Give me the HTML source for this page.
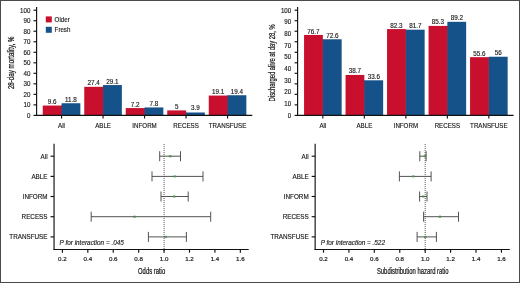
<!DOCTYPE html>
<html><head><meta charset="utf-8"><title>Figure</title>
<style>
html,body{margin:0;padding:0;background:#fff;}
body{width:520px;height:283px;overflow:hidden;font-family:"Liberation Sans",sans-serif;}
svg{display:block;will-change:transform;}
.t{font-family:"Liberation Sans",sans-serif;font-size:6.7px;fill:#1a1a1a;stroke:#1a1a1a;stroke-width:0.15;}
.c{font-family:"Liberation Sans",sans-serif;font-size:8.3px;fill:#1a1a1a;}
.s{font-family:"Liberation Sans",sans-serif;font-size:5.9px;fill:#1a1a1a;stroke:#1a1a1a;stroke-width:0.2;}
.x{font-family:"Liberation Sans",sans-serif;font-size:8.4px;fill:#1a1a1a;stroke:#1a1a1a;stroke-width:0.25;}
.v{font-family:"Liberation Sans",sans-serif;font-size:6.3px;fill:#1a1a1a;stroke:#1a1a1a;stroke-width:0.15;}
.ax{stroke:#111;stroke-width:1.15;fill:none;}
.ci{stroke:#4a4a4a;stroke-width:0.95;fill:none;}
</style></head><body>
<svg width="520" height="283" viewBox="0 0 520 283">
<rect x="42.75" y="105.55" width="18.80" height="9.85" fill="#c8102e"/>
<rect x="61.05" y="105.55" width="1" height="9.85" fill="#c8102e"/>
<rect x="61.55" y="103.24" width="18.80" height="12.16" fill="#15528a"/>
<text transform="translate(52.15,104.10) scale(1.0,1)" text-anchor="middle" class="v">9.6</text>
<text transform="translate(70.95,101.79) scale(1.0,1)" text-anchor="middle" class="v">11.8</text>
<line x1="61.55" y1="115.40" x2="61.55" y2="118.50" class="ax"/>
<text transform="translate(61.55,127.70) scale(0.925,1)" text-anchor="middle" class="t">All</text>
<rect x="84.25" y="86.83" width="18.80" height="28.57" fill="#c8102e"/>
<rect x="102.55" y="86.83" width="1" height="28.57" fill="#c8102e"/>
<rect x="103.05" y="85.04" width="18.80" height="30.36" fill="#15528a"/>
<text transform="translate(93.65,85.38) scale(1.0,1)" text-anchor="middle" class="v">27.4</text>
<text transform="translate(112.45,83.59) scale(1.0,1)" text-anchor="middle" class="v">29.1</text>
<line x1="103.05" y1="115.40" x2="103.05" y2="118.50" class="ax"/>
<text transform="translate(103.05,127.70) scale(0.925,1)" text-anchor="middle" class="t">ABLE</text>
<rect x="125.75" y="108.08" width="18.80" height="7.32" fill="#c8102e"/>
<rect x="144.05" y="108.08" width="1" height="7.32" fill="#c8102e"/>
<rect x="144.55" y="107.44" width="18.80" height="7.96" fill="#15528a"/>
<text transform="translate(135.15,106.63) scale(1.0,1)" text-anchor="middle" class="v">7.2</text>
<text transform="translate(153.95,105.99) scale(1.0,1)" text-anchor="middle" class="v">7.8</text>
<line x1="144.55" y1="115.40" x2="144.55" y2="118.50" class="ax"/>
<text transform="translate(144.55,127.70) scale(0.925,1)" text-anchor="middle" class="t">INFORM</text>
<rect x="167.25" y="110.39" width="18.80" height="5.01" fill="#c8102e"/>
<rect x="185.55" y="112.49" width="1" height="2.91" fill="#c8102e"/>
<rect x="186.05" y="112.49" width="18.80" height="2.91" fill="#15528a"/>
<text transform="translate(176.65,108.94) scale(1.0,1)" text-anchor="middle" class="v">5</text>
<text transform="translate(195.45,110.40) scale(1.0,1)" text-anchor="middle" class="v">3.9</text>
<line x1="186.05" y1="115.40" x2="186.05" y2="118.50" class="ax"/>
<text transform="translate(186.05,127.70) scale(0.925,1)" text-anchor="middle" class="t">RECESS</text>
<rect x="208.75" y="95.56" width="18.80" height="19.84" fill="#c8102e"/>
<rect x="227.05" y="95.56" width="1" height="19.84" fill="#c8102e"/>
<rect x="227.55" y="95.24" width="18.80" height="20.16" fill="#15528a"/>
<text transform="translate(218.15,94.11) scale(1.0,1)" text-anchor="middle" class="v">19.1</text>
<text transform="translate(236.95,93.79) scale(1.0,1)" text-anchor="middle" class="v">19.4</text>
<line x1="227.55" y1="115.40" x2="227.55" y2="118.50" class="ax"/>
<text transform="translate(227.55,127.70) scale(0.925,1)" text-anchor="middle" class="t">TRANSFUSE</text>
<line x1="36.60" y1="7" x2="36.60" y2="115.90" class="ax"/>
<line x1="36.10" y1="115.40" x2="252.30" y2="115.40" class="ax"/>
<line x1="33.50" y1="115.40" x2="36.60" y2="115.40" class="ax"/>
<text transform="translate(30.40,117.70) scale(0.925,1)" text-anchor="end" class="t">0</text>
<line x1="33.50" y1="104.88" x2="36.60" y2="104.88" class="ax"/>
<text transform="translate(30.40,107.18) scale(0.925,1)" text-anchor="end" class="t">10</text>
<line x1="33.50" y1="94.36" x2="36.60" y2="94.36" class="ax"/>
<text transform="translate(30.40,96.66) scale(0.925,1)" text-anchor="end" class="t">20</text>
<line x1="33.50" y1="83.84" x2="36.60" y2="83.84" class="ax"/>
<text transform="translate(30.40,86.14) scale(0.925,1)" text-anchor="end" class="t">30</text>
<line x1="33.50" y1="73.32" x2="36.60" y2="73.32" class="ax"/>
<text transform="translate(30.40,75.62) scale(0.925,1)" text-anchor="end" class="t">40</text>
<line x1="33.50" y1="62.80" x2="36.60" y2="62.80" class="ax"/>
<text transform="translate(30.40,65.10) scale(0.925,1)" text-anchor="end" class="t">50</text>
<line x1="33.50" y1="52.28" x2="36.60" y2="52.28" class="ax"/>
<text transform="translate(30.40,54.58) scale(0.925,1)" text-anchor="end" class="t">60</text>
<line x1="33.50" y1="41.76" x2="36.60" y2="41.76" class="ax"/>
<text transform="translate(30.40,44.06) scale(0.925,1)" text-anchor="end" class="t">70</text>
<line x1="33.50" y1="31.24" x2="36.60" y2="31.24" class="ax"/>
<text transform="translate(30.40,33.54) scale(0.925,1)" text-anchor="end" class="t">80</text>
<line x1="33.50" y1="20.72" x2="36.60" y2="20.72" class="ax"/>
<text transform="translate(30.40,23.02) scale(0.925,1)" text-anchor="end" class="t">90</text>
<line x1="33.50" y1="10.20" x2="36.60" y2="10.20" class="ax"/>
<text transform="translate(30.40,12.50) scale(0.925,1)" text-anchor="end" class="t">100</text>
<text transform="translate(14.00,62.8) rotate(-90) scale(0.74,1)" text-anchor="middle" class="x">28-day mortality, %</text>
<rect x="304.05" y="34.96" width="18.80" height="80.44" fill="#c8102e"/>
<rect x="322.35" y="39.27" width="1" height="76.13" fill="#c8102e"/>
<rect x="322.85" y="39.27" width="18.80" height="76.13" fill="#15528a"/>
<text transform="translate(313.45,33.51) scale(1.0,1)" text-anchor="middle" class="v">76.7</text>
<text transform="translate(332.25,37.82) scale(1.0,1)" text-anchor="middle" class="v">72.6</text>
<line x1="322.85" y1="115.40" x2="322.85" y2="118.50" class="ax"/>
<text transform="translate(322.85,127.70) scale(0.925,1)" text-anchor="middle" class="t">All</text>
<rect x="345.55" y="74.94" width="18.80" height="40.46" fill="#c8102e"/>
<rect x="363.85" y="80.30" width="1" height="35.10" fill="#c8102e"/>
<rect x="364.35" y="80.30" width="18.80" height="35.10" fill="#15528a"/>
<text transform="translate(354.95,73.49) scale(1.0,1)" text-anchor="middle" class="v">38.7</text>
<text transform="translate(373.75,78.85) scale(1.0,1)" text-anchor="middle" class="v">33.6</text>
<line x1="364.35" y1="115.40" x2="364.35" y2="118.50" class="ax"/>
<text transform="translate(364.35,127.70) scale(0.925,1)" text-anchor="middle" class="t">ABLE</text>
<rect x="387.05" y="29.07" width="18.80" height="86.33" fill="#c8102e"/>
<rect x="405.35" y="29.70" width="1" height="85.70" fill="#c8102e"/>
<rect x="405.85" y="29.70" width="18.80" height="85.70" fill="#15528a"/>
<text transform="translate(396.45,27.62) scale(1.0,1)" text-anchor="middle" class="v">82.3</text>
<text transform="translate(415.25,28.25) scale(1.0,1)" text-anchor="middle" class="v">81.7</text>
<line x1="405.85" y1="115.40" x2="405.85" y2="118.50" class="ax"/>
<text transform="translate(405.85,127.70) scale(0.925,1)" text-anchor="middle" class="t">INFORM</text>
<rect x="428.55" y="25.91" width="18.80" height="89.49" fill="#c8102e"/>
<rect x="446.85" y="25.91" width="1" height="89.49" fill="#c8102e"/>
<rect x="447.35" y="21.81" width="18.80" height="93.59" fill="#15528a"/>
<text transform="translate(437.95,24.46) scale(1.0,1)" text-anchor="middle" class="v">85.3</text>
<text transform="translate(456.75,20.36) scale(1.0,1)" text-anchor="middle" class="v">89.2</text>
<line x1="447.35" y1="115.40" x2="447.35" y2="118.50" class="ax"/>
<text transform="translate(447.35,127.70) scale(0.925,1)" text-anchor="middle" class="t">RECESS</text>
<rect x="470.05" y="57.16" width="18.80" height="58.24" fill="#c8102e"/>
<rect x="488.35" y="57.16" width="1" height="58.24" fill="#c8102e"/>
<rect x="488.85" y="56.74" width="18.80" height="58.66" fill="#15528a"/>
<text transform="translate(479.45,55.71) scale(1.0,1)" text-anchor="middle" class="v">55.6</text>
<text transform="translate(498.25,55.29) scale(1.0,1)" text-anchor="middle" class="v">56</text>
<line x1="488.85" y1="115.40" x2="488.85" y2="118.50" class="ax"/>
<text transform="translate(488.85,127.70) scale(0.925,1)" text-anchor="middle" class="t">TRANSFUSE</text>
<line x1="297.60" y1="7" x2="297.60" y2="115.90" class="ax"/>
<line x1="297.10" y1="115.40" x2="513.60" y2="115.40" class="ax"/>
<line x1="294.60" y1="115.40" x2="297.60" y2="115.40" class="ax"/>
<line x1="294.60" y1="104.88" x2="297.60" y2="104.88" class="ax"/>
<line x1="294.60" y1="94.36" x2="297.60" y2="94.36" class="ax"/>
<line x1="294.60" y1="83.84" x2="297.60" y2="83.84" class="ax"/>
<line x1="294.60" y1="73.32" x2="297.60" y2="73.32" class="ax"/>
<line x1="294.60" y1="62.80" x2="297.60" y2="62.80" class="ax"/>
<line x1="294.60" y1="52.28" x2="297.60" y2="52.28" class="ax"/>
<line x1="294.60" y1="41.76" x2="297.60" y2="41.76" class="ax"/>
<line x1="294.60" y1="31.24" x2="297.60" y2="31.24" class="ax"/>
<line x1="294.60" y1="20.72" x2="297.60" y2="20.72" class="ax"/>
<line x1="294.60" y1="10.20" x2="297.60" y2="10.20" class="ax"/>
<text transform="translate(291.20,12.50) scale(0.925,1)" text-anchor="end" class="t">100</text>
<text transform="translate(291.20,24.19) scale(0.925,1)" text-anchor="end" class="t">90</text>
<text transform="translate(291.20,35.88) scale(0.925,1)" text-anchor="end" class="t">80</text>
<text transform="translate(291.20,47.57) scale(0.925,1)" text-anchor="end" class="t">70</text>
<text transform="translate(291.20,59.26) scale(0.925,1)" text-anchor="end" class="t">50</text>
<text transform="translate(291.20,70.94) scale(0.925,1)" text-anchor="end" class="t">40</text>
<text transform="translate(291.20,82.63) scale(0.925,1)" text-anchor="end" class="t">30</text>
<text transform="translate(291.20,94.32) scale(0.925,1)" text-anchor="end" class="t">20</text>
<text transform="translate(291.20,106.01) scale(0.925,1)" text-anchor="end" class="t">10</text>
<text transform="translate(291.20,117.70) scale(0.925,1)" text-anchor="end" class="t">0</text>
<text transform="translate(274.70,62.8) rotate(-90) scale(0.696,1)" text-anchor="middle" class="x">Discharged alive at day 28, %</text>
<rect x="45.8" y="16.4" width="6" height="6" fill="#c8102e"/>
<rect x="45.8" y="26.8" width="6" height="6" fill="#15528a"/>
<text transform="translate(54.60,21.70) scale(0.925,1)" text-anchor="start" class="t">Older</text>
<text transform="translate(54.60,32.10) scale(0.925,1)" text-anchor="start" class="t">Fresh</text>
<line x1="164.08" y1="144" x2="164.08" y2="252.45" stroke="#2a2a2a" stroke-width="0.9" stroke-dasharray="0.9 1.1"/>
<line x1="50.55" y1="156.20" x2="54.05" y2="156.20" class="ax"/>
<text transform="translate(47.55,158.50) scale(0.945,1)" text-anchor="end" class="t">All</text>
<rect x="168.90" y="155.00" width="2.6" height="2.4" rx="0.6" fill="#7cc47c"/>
<path d="M159.70 151.20V161.20M180.50 151.20V161.20M159.70 156.20H180.50" class="ci"/>
<rect x="169.30" y="155.70" width="1.8" height="1" fill="#5a9a62" opacity="0.85"/>
<line x1="50.55" y1="176.40" x2="54.05" y2="176.40" class="ax"/>
<text transform="translate(47.55,178.70) scale(0.945,1)" text-anchor="end" class="t">ABLE</text>
<rect x="173.50" y="175.20" width="2.6" height="2.4" rx="0.6" fill="#7cc47c"/>
<path d="M152.00 171.40V181.40M203.00 171.40V181.40M152.00 176.40H203.00" class="ci"/>
<rect x="173.90" y="175.90" width="1.8" height="1" fill="#5a9a62" opacity="0.85"/>
<line x1="50.55" y1="196.50" x2="54.05" y2="196.50" class="ax"/>
<text transform="translate(47.55,198.80) scale(0.945,1)" text-anchor="end" class="t">INFORM</text>
<rect x="173.00" y="195.30" width="2.6" height="2.4" rx="0.6" fill="#7cc47c"/>
<path d="M161.00 191.50V201.50M188.20 191.50V201.50M161.00 196.50H188.20" class="ci"/>
<rect x="173.40" y="196.00" width="1.8" height="1" fill="#5a9a62" opacity="0.85"/>
<line x1="50.55" y1="216.70" x2="54.05" y2="216.70" class="ax"/>
<text transform="translate(47.55,219.00) scale(0.945,1)" text-anchor="end" class="t">RECESS</text>
<rect x="133.20" y="215.50" width="2.6" height="2.4" rx="0.6" fill="#7cc47c"/>
<path d="M91.20 211.70V221.70M210.70 211.70V221.70M91.20 216.70H210.70" class="ci"/>
<rect x="133.60" y="216.20" width="1.8" height="1" fill="#5a9a62" opacity="0.85"/>
<line x1="50.55" y1="236.90" x2="54.05" y2="236.90" class="ax"/>
<text transform="translate(47.55,239.20) scale(0.945,1)" text-anchor="end" class="t">TRANSFUSE</text>
<rect x="164.40" y="235.70" width="2.6" height="2.4" rx="0.6" fill="#7cc47c"/>
<path d="M148.40 231.90V241.90M186.40 231.90V241.90M148.40 236.90H186.40" class="ci"/>
<rect x="164.80" y="236.40" width="1.8" height="1" fill="#5a9a62" opacity="0.85"/>
<line x1="54.05" y1="143.8" x2="54.05" y2="249.95" class="ax"/>
<line x1="53.55" y1="249.45" x2="248.70" y2="249.45" class="ax"/>
<line x1="62.40" y1="249.45" x2="62.40" y2="252.65" class="ax"/>
<text transform="translate(62.40,261.25) scale(1.05,1)" text-anchor="middle" class="s">0.2</text>
<line x1="87.82" y1="249.45" x2="87.82" y2="252.65" class="ax"/>
<text transform="translate(87.82,261.25) scale(1.05,1)" text-anchor="middle" class="s">0.4</text>
<line x1="113.24" y1="249.45" x2="113.24" y2="252.65" class="ax"/>
<text transform="translate(113.24,261.25) scale(1.05,1)" text-anchor="middle" class="s">0.6</text>
<line x1="138.66" y1="249.45" x2="138.66" y2="252.65" class="ax"/>
<text transform="translate(138.66,261.25) scale(1.05,1)" text-anchor="middle" class="s">0.8</text>
<line x1="164.08" y1="249.45" x2="164.08" y2="252.65" class="ax"/>
<text transform="translate(164.08,261.25) scale(1.05,1)" text-anchor="middle" class="s">1.0</text>
<line x1="189.50" y1="249.45" x2="189.50" y2="252.65" class="ax"/>
<text transform="translate(189.50,261.25) scale(1.05,1)" text-anchor="middle" class="s">1.2</text>
<line x1="214.92" y1="249.45" x2="214.92" y2="252.65" class="ax"/>
<text transform="translate(214.92,261.25) scale(1.05,1)" text-anchor="middle" class="s">1.4</text>
<line x1="240.34" y1="249.45" x2="240.34" y2="252.65" class="ax"/>
<text transform="translate(240.34,261.25) scale(1.05,1)" text-anchor="middle" class="s">1.6</text>
<text transform="translate(59.60,244.90) scale(0.955,1)" text-anchor="start" class="t" font-style="italic">P for interaction = .045</text>
<text transform="translate(151.60,274.4) scale(0.7,1)" text-anchor="middle" class="x">Odds ratio</text>
<line x1="425.18" y1="144" x2="425.18" y2="252.45" stroke="#2a2a2a" stroke-width="0.9" stroke-dasharray="0.9 1.1"/>
<line x1="311.65" y1="156.20" x2="315.15" y2="156.20" class="ax"/>
<text transform="translate(308.65,158.50) scale(0.945,1)" text-anchor="end" class="t">All</text>
<rect x="423.70" y="155.00" width="2.6" height="2.4" rx="0.6" fill="#7cc47c"/>
<path d="M419.80 151.20V161.20M426.10 151.20V161.20M419.80 156.20H426.10" class="ci"/>
<rect x="424.10" y="155.70" width="1.8" height="1" fill="#5a9a62" opacity="0.85"/>
<line x1="311.65" y1="176.40" x2="315.15" y2="176.40" class="ax"/>
<text transform="translate(308.65,178.70) scale(0.945,1)" text-anchor="end" class="t">ABLE</text>
<rect x="412.00" y="175.20" width="2.6" height="2.4" rx="0.6" fill="#7cc47c"/>
<path d="M399.40 171.40V181.40M431.10 171.40V181.40M399.40 176.40H431.10" class="ci"/>
<rect x="412.40" y="175.90" width="1.8" height="1" fill="#5a9a62" opacity="0.85"/>
<line x1="311.65" y1="196.50" x2="315.15" y2="196.50" class="ax"/>
<text transform="translate(308.65,198.80) scale(0.945,1)" text-anchor="end" class="t">INFORM</text>
<rect x="422.00" y="195.30" width="2.6" height="2.4" rx="0.6" fill="#7cc47c"/>
<path d="M419.60 191.50V201.50M427.00 191.50V201.50M419.60 196.50H427.00" class="ci"/>
<rect x="422.40" y="196.00" width="1.8" height="1" fill="#5a9a62" opacity="0.85"/>
<line x1="311.65" y1="216.70" x2="315.15" y2="216.70" class="ax"/>
<text transform="translate(308.65,219.00) scale(0.945,1)" text-anchor="end" class="t">RECESS</text>
<rect x="438.60" y="215.50" width="2.6" height="2.4" rx="0.6" fill="#7cc47c"/>
<path d="M423.60 211.70V221.70M458.50 211.70V221.70M423.60 216.70H458.50" class="ci"/>
<rect x="439.00" y="216.20" width="1.8" height="1" fill="#5a9a62" opacity="0.85"/>
<line x1="311.65" y1="236.90" x2="315.15" y2="236.90" class="ax"/>
<text transform="translate(308.65,239.20) scale(0.945,1)" text-anchor="end" class="t">TRANSFUSE</text>
<rect x="424.00" y="235.70" width="2.6" height="2.4" rx="0.6" fill="#7cc47c"/>
<path d="M417.10 231.90V241.90M436.40 231.90V241.90M417.10 236.90H436.40" class="ci"/>
<rect x="424.40" y="236.40" width="1.8" height="1" fill="#5a9a62" opacity="0.85"/>
<line x1="315.15" y1="143.8" x2="315.15" y2="249.95" class="ax"/>
<line x1="314.65" y1="249.45" x2="509.80" y2="249.45" class="ax"/>
<line x1="323.50" y1="249.45" x2="323.50" y2="252.65" class="ax"/>
<text transform="translate(323.50,261.25) scale(1.05,1)" text-anchor="middle" class="s">0.2</text>
<line x1="348.92" y1="249.45" x2="348.92" y2="252.65" class="ax"/>
<text transform="translate(348.92,261.25) scale(1.05,1)" text-anchor="middle" class="s">0.4</text>
<line x1="374.34" y1="249.45" x2="374.34" y2="252.65" class="ax"/>
<text transform="translate(374.34,261.25) scale(1.05,1)" text-anchor="middle" class="s">0.6</text>
<line x1="399.76" y1="249.45" x2="399.76" y2="252.65" class="ax"/>
<text transform="translate(399.76,261.25) scale(1.05,1)" text-anchor="middle" class="s">0.8</text>
<line x1="425.18" y1="249.45" x2="425.18" y2="252.65" class="ax"/>
<text transform="translate(425.18,261.25) scale(1.05,1)" text-anchor="middle" class="s">1.0</text>
<line x1="450.60" y1="249.45" x2="450.60" y2="252.65" class="ax"/>
<text transform="translate(450.60,261.25) scale(1.05,1)" text-anchor="middle" class="s">1.2</text>
<line x1="476.02" y1="249.45" x2="476.02" y2="252.65" class="ax"/>
<text transform="translate(476.02,261.25) scale(1.05,1)" text-anchor="middle" class="s">1.4</text>
<line x1="501.44" y1="249.45" x2="501.44" y2="252.65" class="ax"/>
<text transform="translate(501.44,261.25) scale(1.05,1)" text-anchor="middle" class="s">1.6</text>
<text transform="translate(320.70,244.90) scale(0.955,1)" text-anchor="start" class="t" font-style="italic">P for interaction = .522</text>
<text transform="translate(412.70,274.4) scale(0.7,1)" text-anchor="middle" class="x">Subdistribution hazard ratio</text>
<rect x="0.5" y="0.5" width="519" height="282" fill="none" stroke="#4a4a4a" stroke-width="1"/>
</svg>
</body></html>
